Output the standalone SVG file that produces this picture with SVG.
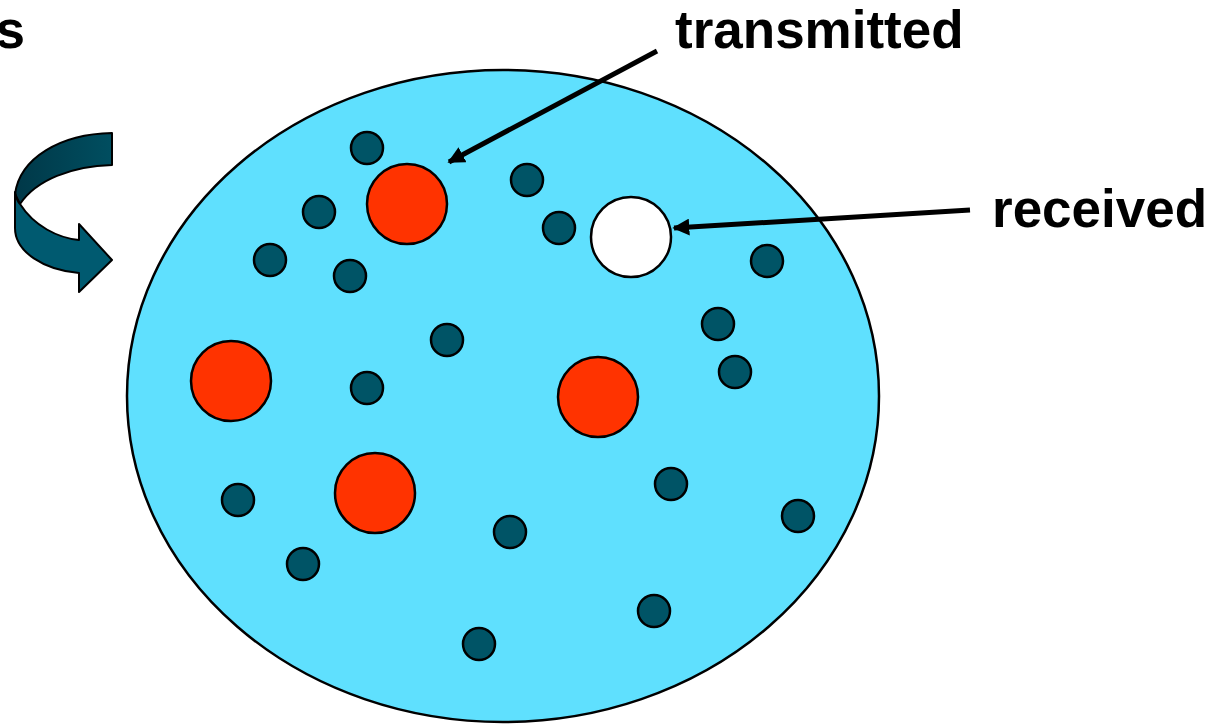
<svg xmlns="http://www.w3.org/2000/svg" width="1211" height="725" viewBox="0 0 1211 725">
  <defs>
    <style>
      .label { font-family: "Liberation Sans", Arial, sans-serif; font-weight: bold; font-size: 53px; fill: #000; }
      .dot { fill: #005466; stroke: #000; stroke-width: 2.5; }
      .big { fill: #FF3300; stroke: #000; stroke-width: 2.5; }
      .hole { fill: #FFFFFF; stroke: #000; stroke-width: 2.5; }
      .lead { stroke: #000; stroke-width: 5; fill: none; marker-end: url(#head); }
    </style>
    <marker id="head" viewBox="0 0 10 10" refX="9" refY="5" markerWidth="3.4" markerHeight="3.4" orient="auto" markerUnits="strokeWidth">
      <path d="M0,0 L10,5 L0,10 Z" fill="#000"/>
    </marker>
    <linearGradient id="backFace" x1="0" y1="0" x2="1" y2="0">
      <stop offset="0" stop-color="#003848"/>
      <stop offset="1" stop-color="#004E60"/>
    </linearGradient>
  </defs>

  <rect width="1211" height="725" fill="#FFFFFF"/>

  <!-- truncated heading fragment -->
  <text class="label" x="25" y="48" text-anchor="end">s</text>

  <!-- rotation arrow -->
  <g id="rotation">
    <path d="M112,133 L112,165 C72,166 36,180 20,204 L15,194 C20,158 60,134 112,133 Z" fill="url(#backFace)" stroke="#000" stroke-width="2" stroke-linejoin="round"/>
    <path d="M15,192 C16,197 17,201 20,204 C34,226 58,238 79,240 L79,224 L112,260 L79,292 L79,273 C44,270 15,252 15,228 Z" fill="#005A70" stroke="#000" stroke-width="2" stroke-linejoin="round"/>
  </g>

  <!-- medium -->
  <g id="medium">
    <ellipse cx="503" cy="396" rx="376" ry="326" fill="#5FE0FE" stroke="#000" stroke-width="2.5"/>
  </g>

  <!-- small particles -->
  <g id="particles">
    <circle class="dot" cx="367" cy="148" r="16"/>
    <circle class="dot" cx="527" cy="180" r="16"/>
    <circle class="dot" cx="319" cy="212" r="16"/>
    <circle class="dot" cx="559" cy="228" r="16"/>
    <circle class="dot" cx="270" cy="260" r="16"/>
    <circle class="dot" cx="350" cy="276" r="16"/>
    <circle class="dot" cx="767" cy="261" r="16"/>
    <circle class="dot" cx="718" cy="324" r="16"/>
    <circle class="dot" cx="447" cy="340" r="16"/>
    <circle class="dot" cx="735" cy="372" r="16"/>
    <circle class="dot" cx="367" cy="388" r="16"/>
    <circle class="dot" cx="671" cy="484" r="16"/>
    <circle class="dot" cx="238" cy="500" r="16"/>
    <circle class="dot" cx="798" cy="516" r="16"/>
    <circle class="dot" cx="510" cy="532" r="16"/>
    <circle class="dot" cx="303" cy="564" r="16"/>
    <circle class="dot" cx="654" cy="611" r="16"/>
    <circle class="dot" cx="479" cy="644" r="16"/>
  </g>

  <!-- large particles -->
  <g id="sent-1"><circle class="big" cx="407" cy="204" r="40"/></g>
  <g id="sent-2"><circle class="big" cx="231" cy="381" r="40"/></g>
  <g id="sent-3"><circle class="big" cx="598" cy="397" r="40"/></g>
  <g id="sent-4"><circle class="big" cx="375" cy="493" r="40"/></g>
  <g id="received-spot"><circle class="hole" cx="631" cy="237" r="40"/></g>

  <!-- labels -->
  <g id="label-transmitted">
    <text class="label" x="675" y="48">transmitted</text>
  </g>
  <g id="label-received">
    <text class="label" x="992" y="227">received</text>
  </g>

  <!-- leader arrows -->
  <g id="connectors">
    <line class="lead" x1="657" y1="51" x2="449" y2="162"/>
    <line class="lead" x1="970" y1="210" x2="674" y2="228"/>
  </g>
</svg>
